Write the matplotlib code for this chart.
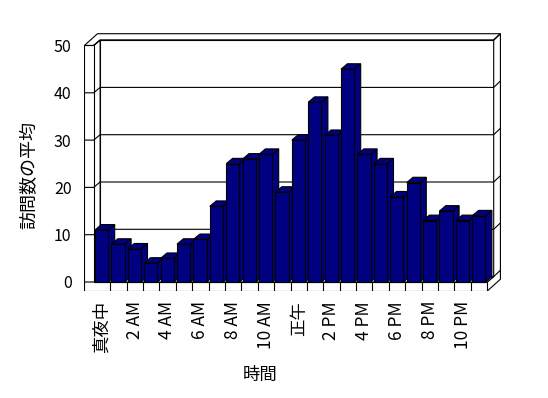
import matplotlib
matplotlib.use('Agg')
import matplotlib.pyplot as plt
from matplotlib.patches import Polygon

plt.rcParams['font.family'] = ['Noto Sans CJK JP', 'DejaVu Sans']

# average visits per hour (0 = midnight ... 23 = 11 PM)
visits = [11, 8, 7, 4, 5, 8, 9, 16, 25, 26, 27, 19,
          30, 38, 31, 45, 27, 25, 18, 21, 13, 15, 13, 14]
tick_hours = [0, 2, 4, 6, 8, 10, 12, 14, 16, 18, 20, 22]
tick_labels = ['真夜中', '2 AM', '4 AM', '6 AM', '8 AM', '10 AM',
               '正午', '2 PM', '4 PM', '6 PM', '8 PM', '10 PM']
y_ticks = [0, 10, 20, 30, 40, 50]

N = len(visits)
TOP = 50

# fake 3D box (data units)
DX, DY = 0.39, 1.14      # depth of the plot box
TX, TY = 0.41, 1.35      # wall thickness (depth direction)
WALL = 0.57              # left wall thickness
FLOOR = 1.9              # floor thickness
BAR_GAP, BAR_W = 0.08, 0.81

NAVY = '#000080'
LW = 0.8

# pixel mapping used for placing the axes
def px_x(x):
    return 93.7 + 16.4 * x

def px_y(v):
    return 282 - 4.73 * v

W, H = 548, 398
xlim = (-WALL - 0.02, N + DX + TX + 0.02)
ylim = (-FLOOR - 0.05, TOP + DY + TY + 0.05)

fig = plt.figure(figsize=(W / 100, H / 100), dpi=100)
l, r = px_x(xlim[0]), px_x(xlim[1])
t, b = px_y(ylim[1]), px_y(ylim[0])
ax = fig.add_axes([l / W, 1 - b / H, (r - l) / W, (b - t) / H])
ax.set_xlim(*xlim)
ax.set_ylim(*ylim)


def poly(pts, z, fc='white'):
    ax.add_patch(Polygon(pts, closed=True, facecolor=fc, edgecolor='black',
                         linewidth=LW, zorder=z))


# walls and floor
poly([(DX, DY), (N + DX, DY), (N + DX, TOP + DY), (DX, TOP + DY)], 1)
poly([(-WALL, TOP), (0, TOP), (DX, TOP + DY), (N + DX, TOP + DY),
      (N + DX + TX, TOP + DY + TY), (-WALL + DX + TX, TOP + DY + TY)], 1)
poly([(N, -FLOOR), (N + DX + TX, -FLOOR + DY + TY), (N + DX + TX, TOP + DY + TY),
      (N + DX, TOP + DY), (N + DX, DY), (N, 0)], 1)
poly([(0, 0), (N, 0), (N + DX, DY), (DX, DY)], 1)
poly([(0, 0), (0, TOP), (DX, TOP + DY), (DX, DY)], 1)
poly([(-WALL, -FLOOR), (N, -FLOOR), (N, 0), (0, 0), (0, TOP), (-WALL, TOP)], 1)

# gridlines running across left wall, back wall and right side
for v in y_ticks:
    ax.plot([-WALL, 0, DX, N + DX, N + DX + TX],
            [v, v, v + DY, v + DY, v + DY + TY],
            color='black', lw=LW, zorder=1.5, solid_capstyle='butt')

# category dividers on the floor front
for i in range(1, N):
    ax.plot([i, i], [-FLOOR, 0], color='black', lw=LW, zorder=1.5)

# bars: front faces via ax.bar, side + top faces as polygons
bars = ax.bar([i + BAR_GAP for i in range(N)], visits, width=BAR_W,
              align='edge', color=NAVY, edgecolor='black', linewidth=LW)
for i, (p, v) in enumerate(zip(bars, visits)):
    x0 = i + BAR_GAP
    x1 = x0 + BAR_W
    z = 3 + i * 0.1
    poly([(x1, 0), (x1 + DX, DY), (x1 + DX, v + DY), (x1, v)], z, NAVY)
    poly([(x0, v), (x1, v), (x1 + DX, v + DY), (x0 + DX, v + DY)], z + 0.01, NAVY)
    p.set_zorder(z + 0.02)

for s in ax.spines.values():
    s.set_visible(False)

ax.set_xticks([h + 0.5 for h in tick_hours])
ax.set_xticklabels(tick_labels, rotation=90, fontsize=12.5)
ax.set_yticks(y_ticks)
ax.set_yticklabels([str(v) for v in y_ticks], fontsize=11.5)
ax.tick_params(axis='x', length=0, pad=7)
ax.tick_params(axis='y', length=0, pad=9)

ax.set_xlabel('時間', fontsize=12.5)
ax.xaxis.set_label_coords((260 - l) / (r - l), (b - 375) / (b - t))
ax.set_ylabel('訪問数の平均', fontsize=13)
ax.yaxis.set_label_coords((29 - l) / (r - l), (b - 175) / (b - t))
ax.xaxis.label.set_va('center')
ax.yaxis.label.set_va('center')

fig.savefig('out.png', dpi=100)
